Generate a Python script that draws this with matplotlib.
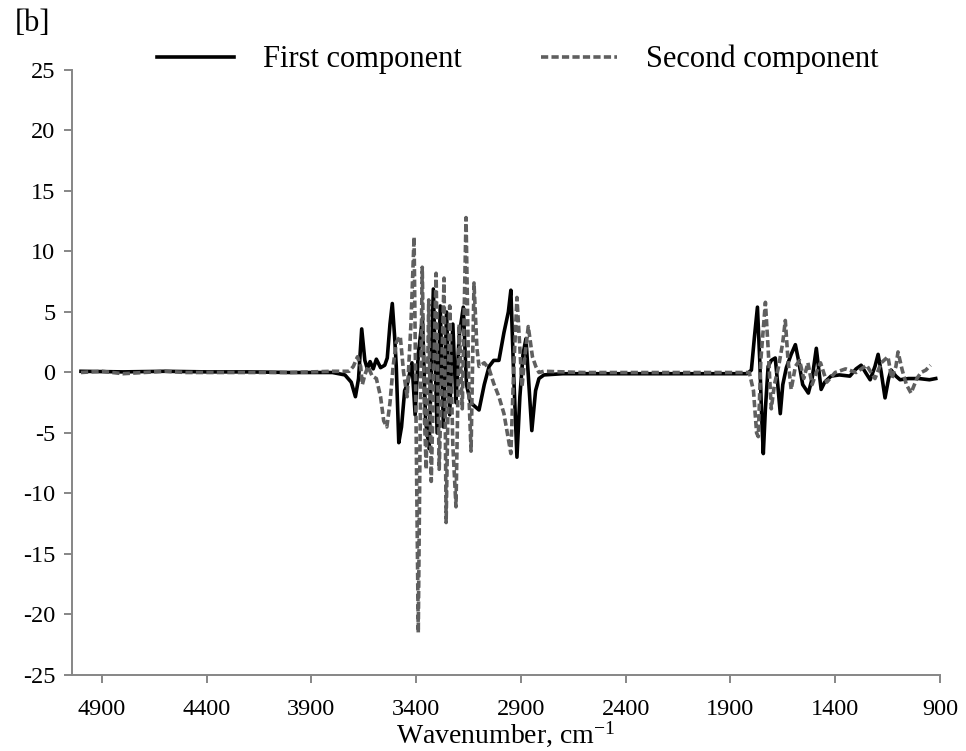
"""Two-component loading spectra plotted against wavenumber."""

import matplotlib
import matplotlib.pyplot as plt

matplotlib.use("Agg")

# ── Colours / fonts ───────────────────────────────────────────────────────────

_AXIS  = "#868686"
_BLACK = "#000000"
_GREY  = "#5f5f5f"
_FONT  = "Liberation Serif"

plt.rcParams["font.family"] = [_FONT, "DejaVu Serif"]
plt.rcParams["mathtext.fontset"] = "custom"
plt.rcParams["mathtext.rm"] = _FONT
plt.rcParams["mathtext.it"] = _FONT + ":italic"
plt.rcParams["mathtext.bf"] = _FONT + ":bold"

# ── Data ──────────────────────────────────────────────────────────────────────

first_wn = [
    5000, 4800, 4600, 4400, 4200, 4000, 3800, 3740, 3710, 3690, 3675, 3660,
    3645, 3633, 3620, 3605, 3590, 3570, 3550, 3538, 3525, 3514, 3503, 3495,
    3483, 3470, 3455, 3443, 3420, 3405, 3390, 3370, 3355, 3338, 3318, 3300,
    3285, 3270, 3255, 3240, 3225, 3210, 3195, 3175, 3160, 3140, 3120, 3100,
    3075, 3052, 3030, 3005, 2981, 2960, 2948, 2935, 2919, 2905, 2890, 2876,
    2862, 2848, 2830, 2814, 2790, 2700, 2500, 2300, 2100, 1900, 1820, 1800,
    1785, 1771, 1760, 1750, 1743, 1733, 1720, 1705, 1686, 1674, 1662, 1650,
    1633, 1610, 1590, 1575, 1555, 1528, 1510, 1490, 1478, 1467, 1450, 1420,
    1380, 1330, 1300, 1276, 1255, 1233, 1210, 1195, 1180, 1162, 1145, 1133,
    1110, 1090, 1050, 1000, 950, 920,
]
first_val = [
    0.1, 0.05, 0.1, 0.05, 0.05, 0.0, 0.0, -0.2, -0.8, -2.0, -0.5, 3.6,
    1.0, 0.3, 0.9, 0.3, 1.1, 0.4, 0.6, 1.2, 4.0, 5.7, 3.0, 0.5,
    -5.8, -4.5, -1.5, -1.0, 0.8, -3.5, 1.5, 4.5, -4.0, -6.3, 6.9, -5.0,
    5.5, -4.5, 5.0, -3.5, 4.0, -2.5, 3.0, 5.4, -1.0, -2.5, -2.8, -3.1,
    -1.0, 0.5, 1.0, 1.0, 3.3, 5.0, 6.8, 0.0, -7.0, -2.0, 1.5, 2.8,
    -1.0, -4.8, -1.5, -0.5, -0.2, -0.1, -0.1, -0.1, -0.1, -0.1, -0.1, 0.2,
    3.0, 5.4, 1.0, -4.0, -6.7, -3.0, 0.5, 1.0, 1.2, -1.0, -3.4, -1.0,
    0.4, 1.5, 2.3, 1.0, -1.0, -1.7, -0.5, 2.0, 0.2, -1.4, -0.8, -0.3,
    -0.2, -0.3, 0.3, 0.6, 0.0, -0.6, 0.5, 1.5, 0.0, -2.1, -0.5, 0.2,
    -0.3, -0.6, -0.5, -0.5, -0.6, -0.5,
]

second_wn = [
    5000, 4900, 4800, 4700, 4600, 4500, 4400, 4200, 4000, 3800, 3720, 3700,
    3680, 3665, 3657, 3645, 3630, 3610, 3590, 3570, 3555, 3540, 3525, 3510,
    3495, 3476, 3460, 3443, 3425, 3410, 3400, 3390, 3380, 3371, 3360, 3352,
    3340, 3328, 3305, 3290, 3267, 3257, 3240, 3225, 3210, 3195, 3180, 3162,
    3148, 3138, 3124, 3110, 3100, 3075, 3052, 3030, 3005, 2981, 2960, 2948,
    2935, 2919, 2905, 2895, 2880, 2865, 2845, 2829, 2814, 2790, 2600, 2400,
    2200, 2000, 1850, 1810, 1790, 1775, 1767, 1755, 1733, 1720, 1705, 1690,
    1670, 1650, 1638, 1625, 1610, 1590, 1570, 1550, 1530, 1510, 1490, 1470,
    1440, 1400, 1350, 1300, 1250, 1210, 1180, 1148, 1130, 1110, 1100, 1080,
    1060, 1038, 1010, 990, 967, 945,
]
second_val = [
    0.0, 0.1, -0.1, 0.0, 0.1, 0.0, 0.0, 0.0, 0.0, 0.1, 0.1, 0.5,
    1.3, 0.5, -1.0, -0.2, 0.5, -0.3, -0.5, -2.0, -4.0, -4.5, -2.5, 0.5,
    2.5, 3.0, 0.0, -2.0, 4.0, 11.2, -5.0, -21.5, -3.0, 8.7, -4.0, -8.0,
    6.0, -9.0, 8.2, -8.0, 7.8, -12.4, 5.5, -6.0, -11.1, 4.0, -3.0, 12.8,
    -2.0, -6.5, 7.4, 2.0, 0.5, 0.8, 0.3, -0.9, -2.0, -3.4, -5.5, -6.7,
    0.0, 6.2, 2.0, -1.2, 1.5, 3.8, 1.3, 0.5, 0.0, 0.1, 0.0, 0.0,
    0.0, 0.0, 0.0, 0.0, -1.5, -5.0, -5.3, 1.0, 5.8, 2.0, -3.0, -1.0,
    0.5, 2.5, 4.3, 1.0, -1.4, 0.5, 1.0, -0.5, 0.8, -1.0, 0.0, 0.8,
    -0.8, 0.0, 0.3, 0.0, 0.6, -0.5, 0.8, 1.3, -0.5, 0.5, 1.7, 0.2,
    -1.0, -1.7, -0.5, 0.0, 0.2, 0.6,
]

x_ticks = [4900, 4400, 3900, 3400, 2900, 2400, 1900, 1400, 900]
y_ticks = [25, 20, 15, 10, 5, 0, -5, -10, -15, -20, -25]

# ── Figure ────────────────────────────────────────────────────────────────────

fig = plt.figure(figsize=(9.66, 7.51), dpi=100)
ax = fig.add_axes([0.0745, 0.1012, 0.8985, 0.8056])

ax.plot(first_wn, first_val, color=_BLACK, linewidth=2.6,
        solid_joinstyle="round", label="First component", zorder=3)
ax.plot(second_wn, second_val, color=_GREY, linewidth=2.6,
        linestyle=(0, (2.0, 0.9)), label="Second component", zorder=4)

ax.set_xlim(5043, 900)
ax.set_ylim(-25, 25)
ax.set_xticks(x_ticks)
ax.set_yticks(y_ticks)
ax.set_yticklabels([str(v) for v in y_ticks])

for side in ("top", "right"):
    ax.spines[side].set_visible(False)
for side in ("left", "bottom"):
    ax.spines[side].set_color(_AXIS)
    ax.spines[side].set_linewidth(1.4)

ax.tick_params(axis="both", colors=_AXIS, labelcolor="black",
               labelsize=17.5, length=6, width=1.4, direction="out")
ax.tick_params(axis="x", pad=11)
ax.tick_params(axis="y", pad=6)

ax.set_xlabel(r"Wavenumber, cm$^{\mathregular{-1}}$", fontsize=20,
              labelpad=0)

fig.text(0.015, 0.969, "[b]", fontsize=22, ha="left", va="center")

ax.legend(loc="center", bbox_to_anchor=(0.514, 1.017), ncol=2,
          frameon=False, prop={"family": _FONT, "size": 22},
          handlelength=2.5, columnspacing=2.6, handletextpad=0.95)

fig.savefig("out.png", dpi=100, facecolor="white")
plt.close(fig)
